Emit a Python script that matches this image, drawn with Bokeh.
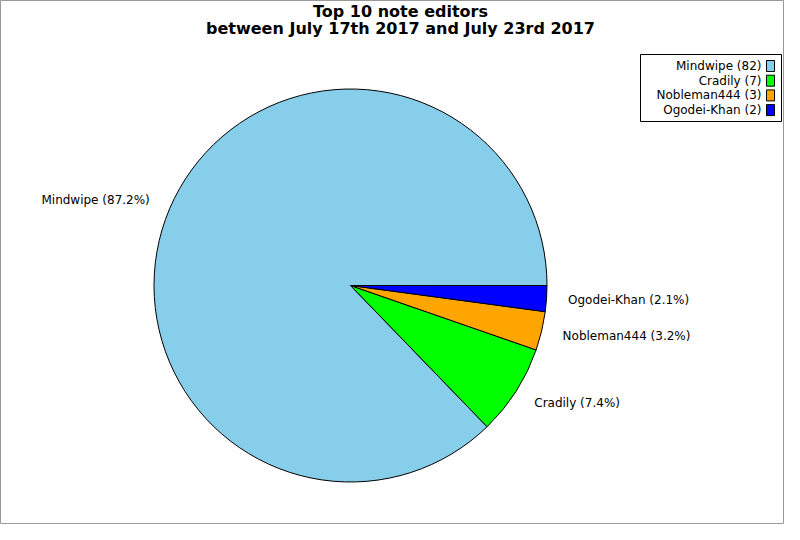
import math
from bokeh.plotting import figure
from bokeh.models import Range1d
from bokeh.core.properties import value
from bokeh.embed import file_html
from bokeh.resources import INLINE

# ---- data ----
editors = ["Mindwipe", "Cradily", "Nobleman444", "Ogodei-Khan"]
counts = [82, 7, 3, 2]
colors = ["#87ceeb", "#00ff00", "#ffa500", "#0000ff"]
title_lines = ["Top 10 note editors", "between July 17th 2017 and July 23rd 2017"]

# ---- layout (pixel coordinates, y measured downward) ----
FW, FH = 784, 524
FONT = value("DejaVu Sans")


def Y(y):
    return FH - y


p = figure(width=FW, height=FH, output_backend="svg", toolbar_location=None,
           x_range=Range1d(0, FW), y_range=Range1d(0, FH),
           min_border=0, min_border_left=0, min_border_right=0,
           min_border_top=0, min_border_bottom=0)
p.xaxis.visible = False
p.yaxis.visible = False
p.grid.visible = False
p.outline_line_color = "#999999"
p.background_fill_color = "white"
p.border_fill_color = "white"

cx, cy, r = 350, 285, 196.5
total = sum(counts)
starts, ends, mids = [], [], []
acc = 0.0
for c in counts:
    a0 = acc / total * 2 * math.pi
    acc += c
    a1 = acc / total * 2 * math.pi
    starts.append(a0)
    ends.append(a1)
    mids.append((a0 + a1) / 2)

p.wedge(x=[cx] * len(counts), y=[Y(cy)] * len(counts), radius=r,
        start_angle=starts, end_angle=ends, direction="anticlock",
        fill_color=colors, line_color="black", line_width=1)

# slice labels
lr = 218
for name, c, m in zip(editors, counts, mids):
    pct = 100.0 * c / total
    lx = cx + lr * math.cos(m)
    ly = Y(cy) + lr * math.sin(m)
    align = "left" if math.cos(m) >= 0 else "right"
    p.text(x=[lx], y=[ly], text=[f"{name} ({pct:.1f}%)"], text_font=FONT,
           text_font_size="12px", text_align=align, text_baseline="middle",
           text_color="black")

# title
p.text(x=[400], y=[Y(11)], text=[title_lines[0]], text_font=FONT,
       text_font_size="16px", text_font_style="bold", text_align="center",
       text_baseline="middle", text_color="black")
p.text(x=[400], y=[Y(28)], text=[title_lines[1]], text_font=FONT,
       text_font_size="16px", text_font_style="bold", text_align="center",
       text_baseline="middle", text_color="black")

# legend (text right-aligned, swatch at right)
lx0, ly0, lx1, ly1 = 640, 54, 781, 121
p.quad(left=[lx0], right=[lx1], top=[Y(ly0)], bottom=[Y(ly1)],
       fill_color="white", line_color="black", line_width=1)
for i, (name, c, col) in enumerate(zip(editors, counts, colors)):
    yy = 65.5 + i * 14.7
    p.quad(left=[lx1 - 15], right=[lx1 - 7], top=[Y(yy - 5.5)], bottom=[Y(yy + 5.5)],
           fill_color=col, line_color="black", line_width=1)
    p.text(x=[lx1 - 20], y=[Y(yy)], text=[f"{name} ({c})"], text_font=FONT,
           text_font_size="12px", text_align="right", text_baseline="middle",
           text_color="black")

open("out.html", "w").write(file_html(p, INLINE))
